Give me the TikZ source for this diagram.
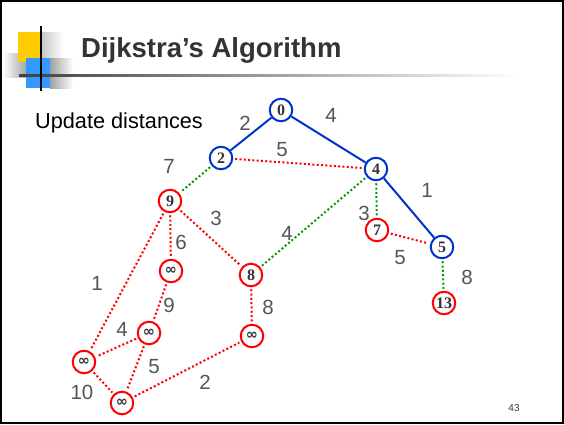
\documentclass[tikz,border=0pt]{standalone}
\usepackage{fontspec}
\setmainfont{Liberation Serif}
\newfontfamily\arialfont{Liberation Sans}
\newfontfamily\symfont{DejaVu Sans}
\usetikzlibrary{positioning}
\definecolor{knownblue}{RGB}{0, 51, 204}
\definecolor{unknownred}{RGB}{255, 0, 0}
\definecolor{candgreen}{RGB}{0, 153, 0}
\definecolor{weightgrey}{RGB}{85, 85, 85}
\definecolor{titlegrey}{RGB}{51, 51, 51}
\definecolor{logoyellow}{RGB}{255, 204, 0}
\definecolor{logoblue}{RGB}{51, 153, 255}
\newcommand{\infmark}{{\symfont\bfseries\fontsize{14.5}{14.5}\selectfont ∞}}

\begin{document}
\begin{tikzpicture}[
    x=1pt, y=-1pt,
    vertex/.style={circle, line width=2pt, fill=white, minimum size=22.5pt, inner sep=0pt, font=\fontsize{16}{16}\selectfont\bfseries, text=titlegrey},
    known/.style={vertex, draw=knownblue},
    unknown/.style={vertex, draw=unknownred},
    treeedge/.style={line width=2pt, knownblue},
    candedge/.style={line width=2pt, candgreen, dash pattern=on 2pt off 2.3pt, shorten >=2pt, shorten <=2pt},
    restedge/.style={line width=2pt, unknownred, dash pattern=on 2pt off 2.3pt, shorten >=2pt, shorten <=2pt},
    weight/.style={inner sep=0pt, font=\arialfont\fontsize{20.5}{20.5}\selectfont, text=weightgrey}
]
    \useasboundingbox (0,0) rectangle (564,424);

    % Slide frame and logo
    \draw[line width=2.4pt] (1.2,1.2) rectangle (562.8,422.8);
    \shade[left color=gray!45, right color=white] (41,32) rectangle (64,62);
    \shade[left color=white, right color=gray!70] (3,53) rectangle (26,77);
    \fill[logoyellow] (18,32) rectangle (41,62);
    \shade[left color=gray!75, right color=white] (50,58) rectangle (73,88);
    \fill[logoblue] (26,58) rectangle (50,88);
    \shade[left color=black!75, right color=white] (19,74) rectangle (520,76.2);
    \draw[line width=1.6pt] (41,26) -- (41,91);

    % Texts
    \node[anchor=base west, inner sep=0pt, font=\arialfont\bfseries\fontsize{27.5}{27.5}\selectfont, text=titlegrey] (title) at (81,57) {Dijkstra’s Algorithm};
    \node[anchor=base west, inner sep=0pt, font=\arialfont\fontsize{21.7}{21.7}\selectfont] (caption) at (35,128) {Update distances};
    \node[inner sep=0pt, font=\arialfont\fontsize{10}{10}\selectfont, text=titlegrey] (pagenum) at (514,408) {43};

    % Vertices
    \node[known] (N0) at (281,110) {0};
    \node[known] (N2) at (221,158) {2};
    \node[known] (N4) at (376,169) {4};
    \node[known] (N5) at (442,247) {5};
    \node[unknown] (N9) at (170,201) {9};
    \node[unknown] (N7) at (377,230) {7};
    \node[unknown] (N8) at (251,275) {8};
    \node[unknown] (N13) at (444,303) {13};
    \node[unknown] (Ia) at (171,271) {\infmark};
    \node[unknown] (Ib) at (149,333) {\infmark};
    \node[unknown] (Ic) at (252,336) {\infmark};
    \node[unknown] (Id) at (84,362) {\infmark};
    \node[unknown] (Ie) at (122,403) {\infmark};

    % Edges
    \draw[treeedge] (N0) -- (N2);
    \draw[treeedge] (N0) -- (N4);
    \draw[treeedge] (N4) -- (N5);
    \draw[restedge] (N2) -- (N4);
    \draw[candedge] (N2) -- (N9);
    \draw[candedge] (N4) -- (N7);
    \draw[candedge] (N4) -- (N8);
    \draw[candedge] (N5) -- (N13);
    \draw[restedge] (N7) -- (N5);
    \draw[restedge] (N9) -- (Ia);
    \draw[restedge] (N9) -- (N8);
    \draw[restedge] (N9) -- (Id);
    \draw[restedge] (Ia) -- (Ib);
    \draw[restedge] (N8) -- (Ic);
    \draw[restedge] (Ib) -- (Id);
    \draw[restedge] (Ib) -- (Ie);
    \draw[restedge] (Id) -- (Ie);
    \draw[restedge] (Ie) -- (Ic);

    % Weights
    \node[weight] (w02) at (245,123) {2};
    \node[weight] (w04) at (331,115) {4};
    \node[weight] (w24) at (282,150) {5};
    \node[weight] (w45) at (427,190) {1};
    \node[weight] (w29) at (169,166) {7};
    \node[weight] (w47) at (364,213) {3};
    \node[weight] (w48) at (287,233) {4};
    \node[weight] (w98) at (216,218) {3};
    \node[weight] (w75) at (400,258) {5};
    \node[weight] (w513) at (467,277) {8};
    \node[weight] (w9a) at (181,242) {6};
    \node[weight] (w9d) at (97,283) {1};
    \node[weight] (wab) at (169,305) {9};
    \node[weight] (w8c) at (268,307) {8};
    \node[weight] (wbd) at (122,329) {4};
    \node[weight] (wbe) at (154,367) {5};
    \node[weight] (wde) at (82,392) {10};
    \node[weight] (wec) at (205,382) {2};
\end{tikzpicture}
\end{document}
